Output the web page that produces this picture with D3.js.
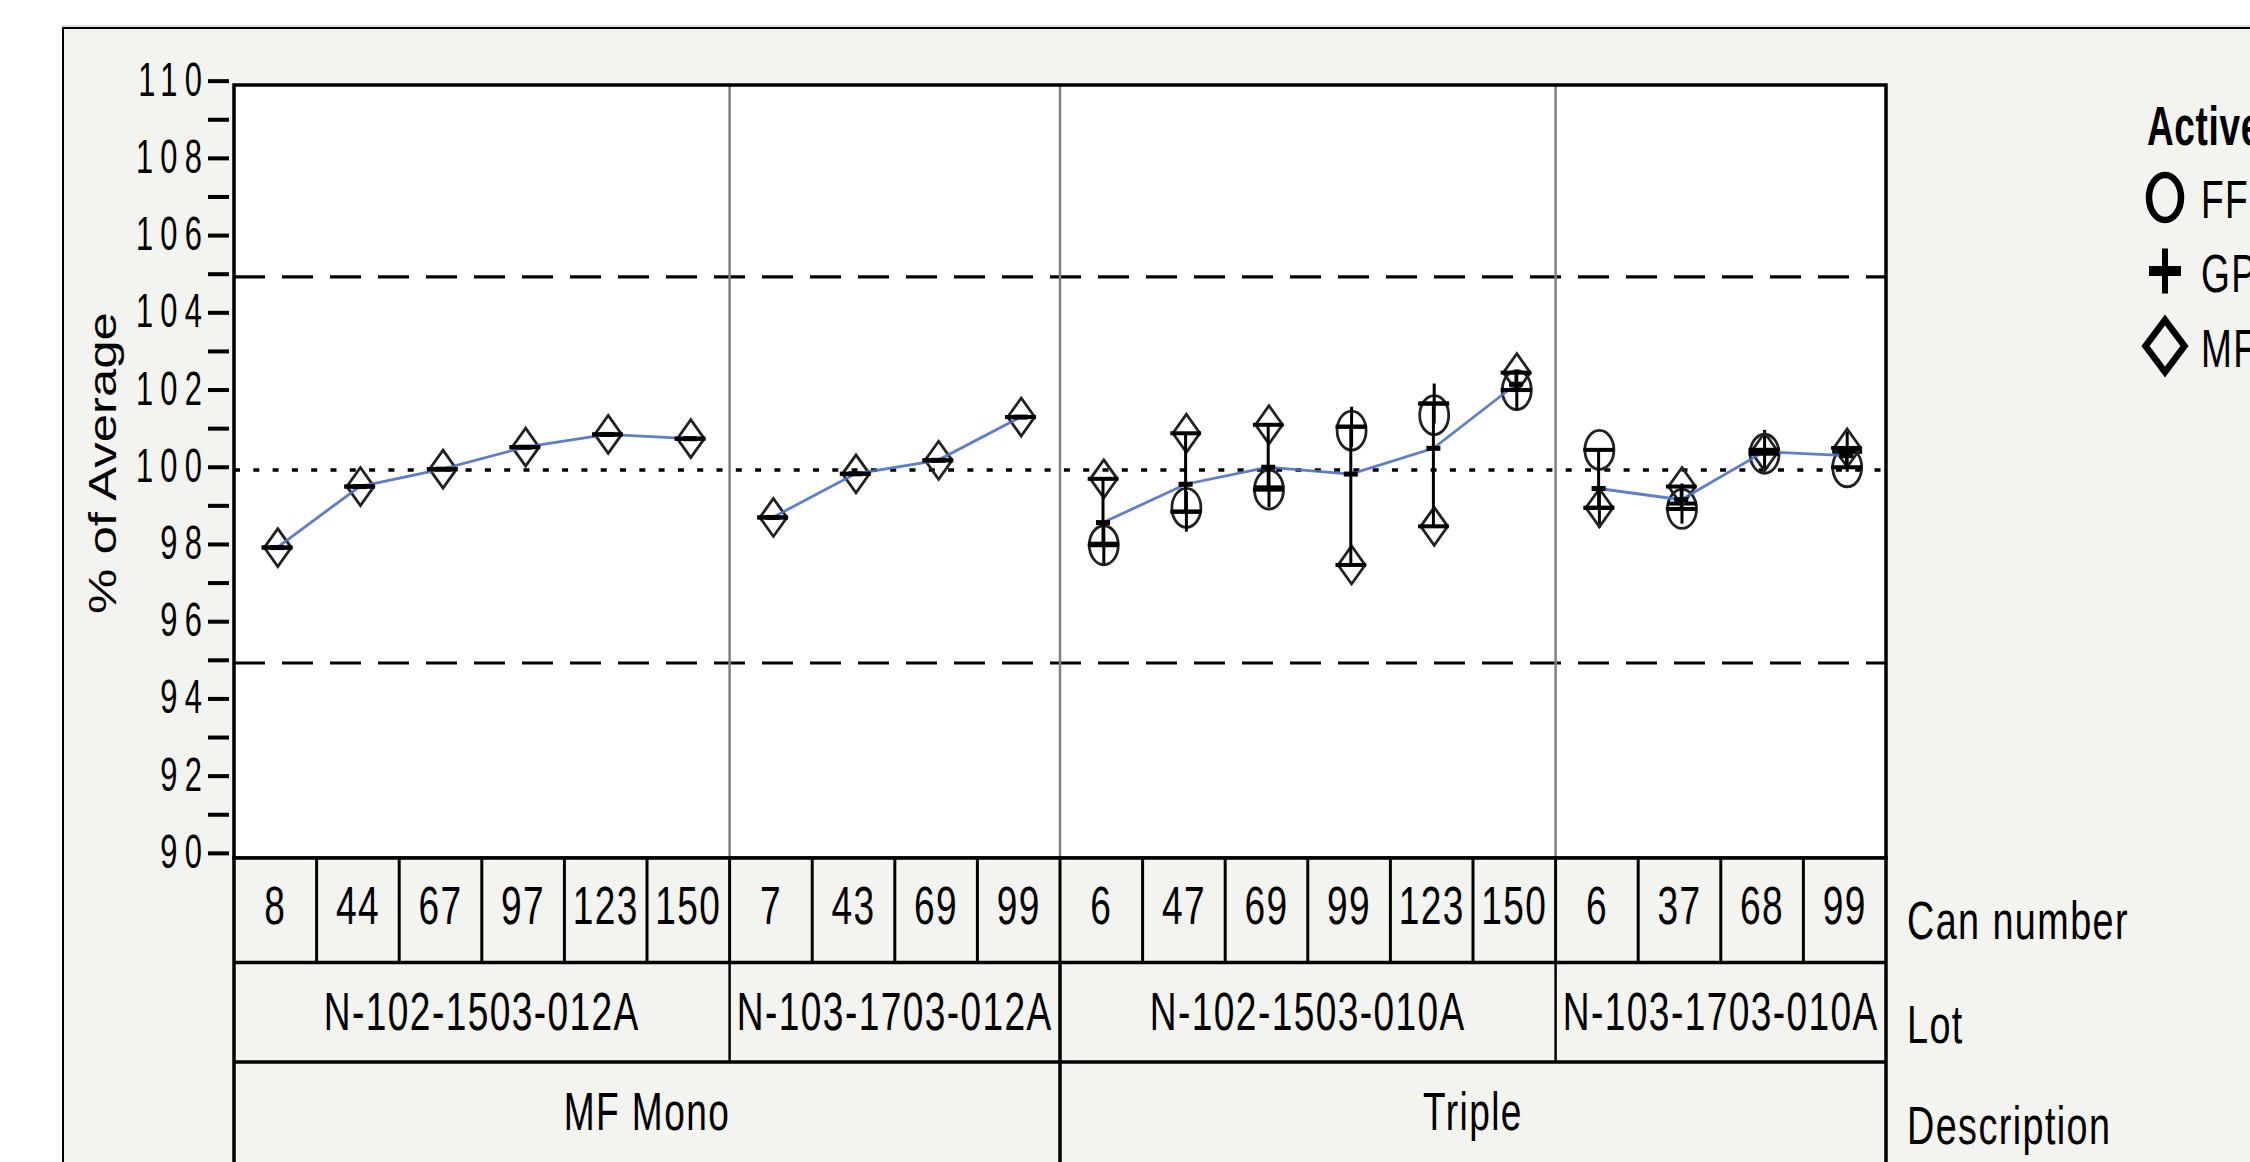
<!DOCTYPE html>
<html>
<head>
<meta charset="utf-8">
<script src="https://cdn.jsdelivr.net/npm/d3@7"></script>
<style>
  html, body { margin: 0; padding: 0; background: #ffffff; overflow: hidden; }
  text { font-family: "Liberation Sans", Arial, sans-serif; fill: #000; }
</style>
</head>
<body>
<svg id="chart" width="2250" height="1162"></svg>
<script>
// ---- data ----------------------------------------------------------------
const canNumbers = ["8", "44", "67", "97", "123", "150", "7", "43", "69", "99",
                    "6", "47", "69", "99", "123", "150", "6", "37", "68", "99"];
const canLot = [0, 0, 0, 0, 0, 0, 1, 1, 1, 1, 2, 2, 2, 2, 2, 2, 3, 3, 3, 3];
const lotNames = ["N-102-1503-012A", "N-103-1703-012A", "N-102-1503-010A", "N-103-1703-010A"];
const lotDescription = [0, 0, 1, 1];
const descriptionNames = ["MF Mono", "Triple"];

// % of average per can and active ingredient (null = not present)
const ffValues = [null, null, null, null, null, null, null, null, null, null,
                  97.98, 98.95, 99.42, 100.95, 101.35, 102.00,
                  100.45, 98.92, 100.35, 100.00];
const gpValues = [null, null, null, null, null, null, null, null, null, null,
                  98.02, 98.85, 99.48, 101.05, 101.65, 102.00,
                  98.95, 99.06, 100.45, 100.40];
const mfValues = [97.92, 99.50, 99.95, 100.52, 100.85, 100.74,
                  98.70, 99.83, 100.18, 101.30,
                  99.70, 100.88, 101.10, 97.47, 98.47, 102.45,
                  98.95, 99.50, 100.40, 100.50];

const activeNames = ["FF", "GP", "MF"];
const yMajorTicks = [90, 92, 94, 96, 98, 100, 102, 104, 106, 108, 110];
const yMinorTicks = [91, 93, 95, 97, 99, 101, 103, 105, 107, 109];
const grandMean = 99.93;
const limitOffset = 5;
const rowLabels = ["Can number", "Lot", "Description"];

// ---- layout ---------------------------------------------------------------
const L = {
  frameX: 63, frameY: 28,
  plotL: 234, plotR: 1886, plotT: 85, plotB: 858,
  rowLot: 962.5, rowDesc: 1062, tableEnd: 1220
};
const BG = "#f3f3ef";
const FONT_TABLE = { size: 53, sx: 0.70, ls: 2 };

const svg = d3.select("#chart");
const x = d3.scaleBand().domain(d3.range(canNumbers.length))
  .range([L.plotL, L.plotR]).padding(0);
const y = d3.scaleLinear().domain([89.88, 109.9]).range([L.plotB, L.plotT]);
const cx = i => x(i) + x.bandwidth() / 2;

// squeezed text helper (the chart's lettering is tall and narrow)
function label(g, str, px, py, o) {
  return g.append("text")
    .attr("transform", `translate(${px},${py}) scale(${o.sx},1)`)
    .attr("text-anchor", o.anchor || "start")
    .style("font-size", o.size + "px")
    .style("letter-spacing", (o.ls || 0) + "px")
    .style("font-weight", o.weight || 400)
    .text(str);
}

// ---- backgrounds ------------------------------------------------------------
svg.append("rect").attr("x", 0).attr("y", 0).attr("width", 2250).attr("height", 1162).attr("fill", "#fff");
svg.append("line").attr("x1", L.frameX - 1).attr("x2", 2250).attr("y1", L.frameY - 2).attr("y2", L.frameY - 2)
  .attr("stroke", "#d0d0d0").attr("stroke-width", 1.5);
svg.append("rect").attr("x", L.frameX).attr("y", L.frameY)
  .attr("width", 2300).attr("height", 1300)
  .attr("fill", BG).attr("stroke", "#000").attr("stroke-width", 2);

svg.append("rect").attr("x", L.plotL).attr("y", L.plotT)
  .attr("width", L.plotR - L.plotL).attr("height", L.plotB - L.plotT).attr("fill", "#fff");

// ---- reference lines --------------------------------------------------------
const refs = svg.append("g");
[grandMean + limitOffset, grandMean - limitOffset].forEach(v => {
  refs.append("line").attr("x1", L.plotL).attr("x2", L.plotR)
    .attr("y1", y(v)).attr("y2", y(v))
    .attr("stroke", "#000").attr("stroke-width", 3.2).attr("stroke-dasharray", "31,17");
});
refs.append("line").attr("x1", L.plotL).attr("x2", L.plotR)
  .attr("y1", y(grandMean)).attr("y2", y(grandMean))
  .attr("stroke", "#000").attr("stroke-width", 3.6).attr("stroke-dasharray", "6,13.3");

// ---- lot groups -------------------------------------------------------------
const lots = lotNames.map((name, k) => {
  const idx = canLot.map((l, i) => l === k ? i : -1).filter(i => i >= 0);
  return { name, k, first: idx[0], last: idx[idx.length - 1], idx };
});

// panel dividers between lots
svg.append("g").selectAll("line").data(lots.slice(1)).join("line")
  .attr("x1", d => x(d.first)).attr("x2", d => x(d.first))
  .attr("y1", L.plotT).attr("y2", L.plotB)
  .attr("stroke", "#808080").attr("stroke-width", 2.5);

// ---- cells --------------------------------------------------------------------
const series = [ffValues, gpValues, mfValues];
const cells = canNumbers.map((c, i) => {
  const vals = series.map((s, si) => ({ s: si, v: s[i] })).filter(d => d.v !== null);
  const vs = vals.map(d => d.v);
  return { i, vals, min: d3.min(vs), max: d3.max(vs), mean: d3.mean(vs) };
});

const barDx = 1.7, markDx = 2.5;

// markers: FF ellipse, GP plus, MF diamond
const markG = svg.append("g");
function drawMarker(g, s, px, py, big) {
  if (s === 0) {
    g.append("ellipse").attr("cx", px).attr("cy", py)
      .attr("rx", big ? 16 : 14.5).attr("ry", big ? 22.5 : 19.5)
      .attr("fill", "none").attr("stroke", big ? "#000" : "#222").attr("stroke-width", big ? 6.5 : 2.8);
  } else if (s === 1) {
    const hw = big ? 16 : 15, hh = big ? 22.5 : 20;
    g.append("rect").attr("x", px - hw).attr("y", py - (big ? 5 : 2)).attr("width", hw * 2).attr("height", big ? 10 : 4).attr("fill", "#000");
    g.append("rect").attr("x", px - (big ? 3 : 1.5)).attr("y", py - hh).attr("width", big ? 6 : 3).attr("height", hh * 2).attr("fill", "#000");
  } else {
    const hw = big ? 19.5 : 13.5, hh = big ? 26 : 19;
    g.append("path").attr("d", `M${px},${py - hh}L${px + hw},${py}L${px},${py + hh}L${px - hw},${py}Z`)
      .attr("fill", "none").attr("stroke", big ? "#000" : "#222").attr("stroke-width", big ? 6.5 : 2.8);
  }
}
cells.forEach(c => c.vals.forEach(d => drawMarker(markG, d.s, cx(c.i) + markDx, y(d.v), false)));

// connected cell means, one path per lot
const meanLine = d3.line().x(i => cx(i) + barDx).y(i => y(cells[i].mean));
svg.append("g").selectAll("path").data(lots).join("path")
  .attr("d", d => meanLine(d.idx))
  .attr("fill", "none").attr("stroke", "#4a70c6").attr("stroke-width", 2.8).attr("stroke-opacity", 0.9);

// range bars with end caps and mean ticks
const rb = svg.append("g");
cells.forEach(c => {
  const bx = cx(c.i) + barDx;
  rb.append("line").attr("x1", bx).attr("x2", bx).attr("y1", y(c.max)).attr("y2", y(c.min))
    .attr("stroke", "#000").attr("stroke-width", 3);
  [c.min, c.max].forEach(v => {
    rb.append("rect").attr("x", bx - 15.3).attr("y", y(v) - 2).attr("width", 30.6).attr("height", 4).attr("fill", "#000");
  });
  rb.append("rect").attr("x", bx - 7).attr("y", y(c.mean) - 2.5).attr("width", 14).attr("height", 5).attr("fill", "#000");
});

// plot border
svg.append("rect").attr("x", L.plotL).attr("y", L.plotT)
  .attr("width", L.plotR - L.plotL).attr("height", L.plotB - L.plotT)
  .attr("fill", "none").attr("stroke", "#000").attr("stroke-width", 3.5);

// ---- y axis -------------------------------------------------------------------
const ax = svg.append("g");
yMajorTicks.concat(yMinorTicks).forEach(v => {
  ax.append("rect").attr("x", 208).attr("y", y(v) - 2).attr("width", 21).attr("height", 4).attr("fill", "#000");
});
yMajorTicks.forEach(v => {
  label(ax, String(v), 209, y(v) + 14.5, { size: 47.5, sx: 0.65, ls: 11, anchor: "end" });
});
ax.append("text")
  .attr("transform", `translate(116,463) rotate(-90) scale(1.34,1)`)
  .attr("text-anchor", "middle")
  .style("font-size", "38px")
  .text("% of Average");

// ---- category table -------------------------------------------------------------
const tb = svg.append("g");
tb.append("rect").attr("x", L.plotL).attr("y", L.plotB)
  .attr("width", L.plotR - L.plotL).attr("height", L.tableEnd - L.plotB).attr("fill", BG);

// can cells
canNumbers.forEach((c, i) => {
  if (i > 0) {
    tb.append("line").attr("x1", x(i)).attr("x2", x(i)).attr("y1", L.plotB).attr("y2", L.rowLot)
      .attr("stroke", "#000").attr("stroke-width", 3);
  }
  label(tb, c, cx(i), 924, Object.assign({ anchor: "middle" }, FONT_TABLE));
});
// lot cells
lots.forEach(d => {
  if (d.k > 0) {
    const thick = lotDescription[d.k] !== lotDescription[d.k - 1];
    tb.append("line").attr("x1", x(d.first)).attr("x2", x(d.first)).attr("y1", L.rowLot)
      .attr("y2", thick ? L.tableEnd : L.rowDesc)
      .attr("stroke", "#000").attr("stroke-width", thick ? 3.5 : 2.5);
  }
  const mid = (x(d.first) + x(d.last) + x.bandwidth()) / 2;
  label(tb, d.name, mid, 1030, Object.assign({ anchor: "middle" }, FONT_TABLE));
});
// description cells
descriptionNames.forEach((name, k) => {
  const idx = lots.filter(d => lotDescription[d.k] === k);
  const a = x(idx[0].first), b = x(idx[idx.length - 1].last) + x.bandwidth();
  label(tb, name, (a + b) / 2, 1130, Object.assign({ anchor: "middle" }, FONT_TABLE));
});
[L.rowLot, L.rowDesc].forEach(yy => {
  tb.append("line").attr("x1", L.plotL).attr("x2", L.plotR).attr("y1", yy).attr("y2", yy)
    .attr("stroke", "#000").attr("stroke-width", 3.5);
});
[L.plotL, L.plotR].forEach(xx => {
  tb.append("line").attr("x1", xx).attr("x2", xx).attr("y1", L.plotB).attr("y2", L.tableEnd)
    .attr("stroke", "#000").attr("stroke-width", 3.5);
});
tb.append("line").attr("x1", L.plotL - 1.75).attr("x2", L.plotR + 1.75).attr("y1", L.plotB).attr("y2", L.plotB)
  .attr("stroke", "#000").attr("stroke-width", 3.5);

// row titles
[939, 1043, 1144].forEach((yy, k) => {
  label(tb, rowLabels[k], 1907, yy, { size: 54, sx: 0.70, ls: 2 });
});

// ---- legend ---------------------------------------------------------------------
const lg = svg.append("g");
label(lg, "Active", 2147, 145, { size: 56, sx: 0.66, ls: 1, weight: 700 });
const legY = [197.5, 271, 346];
activeNames.forEach((n, k) => {
  drawMarker(lg, k, 2165, legY[k], true);
  label(lg, n, 2201, legY[k] + 20.5, { size: 53, sx: 0.70, ls: 2 });
});
</script>
</body>
</html>
